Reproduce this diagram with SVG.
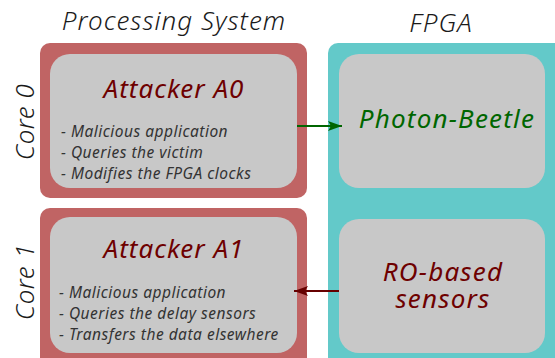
<svg xmlns="http://www.w3.org/2000/svg" width="555" height="358" viewBox="0 0 555 358">
<style>
text{font-family:"Noto Sans","Open Sans","DejaVu Sans",sans-serif;font-style:italic}
.title{font-size:26px;fill:#1a1a1a;font-weight:300;letter-spacing:1px}
.core{font-size:26px;fill:#1a1a1a;font-weight:300;letter-spacing:0.5px}
.ps{fill:#c06464}
.fpga{fill:#63c9c9}
.inner{fill:#c8c8c8}
.att{font-size:26px;fill:#6e0000;text-anchor:middle;letter-spacing:1px}
.bul{font-size:15.5px;fill:#333;letter-spacing:0.5px}
.big{font-size:26px;text-anchor:middle;letter-spacing:1.2px}
</style>
<defs>
<marker id="ag" viewBox="0 0 14 10" refX="14" refY="5" markerWidth="14" markerHeight="10" markerUnits="userSpaceOnUse" orient="auto"><path d="M0,0 L14,5 L0,10 L3,5 Z" fill="#006600"/></marker>
<marker id="ar" viewBox="0 0 14 10" refX="14" refY="5" markerWidth="14" markerHeight="10" markerUnits="userSpaceOnUse" orient="auto"><path d="M0,0 L14,5 L0,10 L3,5 Z" fill="#660000"/></marker>
</defs>
<text class="title" x="174" y="30" text-anchor="middle">Processing System</text>
<text class="title" x="441" y="32" text-anchor="middle">FPGA</text>
<g id="fpga">
<rect class="fpga" x="328" y="43" width="240" height="330" rx="10"/>
</g>
<g id="core0">
<rect class="ps" x="40" y="43" width="267" height="155" rx="10"/>
<rect class="inner" x="50" y="54" width="247" height="134" rx="20"/>
<text class="core" transform="translate(34,122) rotate(-90)" text-anchor="middle">Core 0</text>
<text class="att" x="174" y="98">Attacker A0</text>
<text class="bul" x="61" y="137">- Malicious application</text>
<text class="bul" x="61" y="158">- Queries the victim</text>
<text class="bul" x="61" y="179">- Modifies the FPGA clocks</text>
</g>
<g id="core1">
<rect class="ps" x="40" y="208" width="267" height="170" rx="10"/>
<rect class="inner" x="50" y="217" width="247" height="136" rx="20"/>
<text class="core" transform="translate(34,282) rotate(-90)" text-anchor="middle">Core 1</text>
<text class="att" x="174" y="258">Attacker A1</text>
<text class="bul" x="59" y="298">- Malicious application</text>
<text class="bul" x="59" y="319">- Queries the delay sensors</text>
<text class="bul" x="59" y="340">- Transfers the data elsewhere</text>
</g>
<g id="photon">
<rect class="inner" x="339" y="54" width="206" height="134" rx="20"/>
<text class="big" x="447" y="128" style="fill:#006600">Photon-Beetle</text>
</g>
<g id="ro">
<rect class="inner" x="339" y="219" width="206" height="134" rx="20"/>
<text class="big" style="fill:#6e0000"><tspan x="443" y="281">RO-based</tspan><tspan x="443" y="308">sensors</tspan></text>
</g>
<g id="connectors">
<line x1="297" y1="126" x2="342" y2="126" stroke="#006600" stroke-width="2" marker-end="url(#ag)"/>
<line x1="339" y1="291" x2="294" y2="291" stroke="#660000" stroke-width="2" marker-end="url(#ar)"/>
</g>
</svg>
